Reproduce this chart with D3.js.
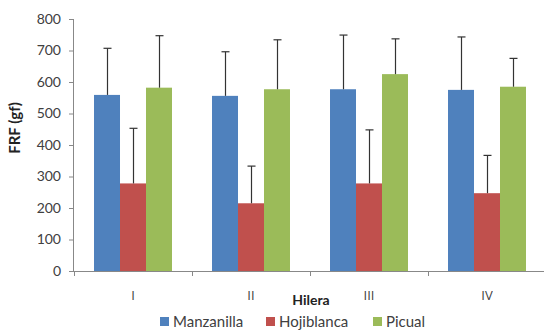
<!DOCTYPE html>
<html><head><meta charset="utf-8">
<script src="https://cdn.jsdelivr.net/npm/d3@7/dist/d3.min.js"></script>
<style>body{margin:0;background:#fff}svg{display:block}</style>
</head><body>
<script>
const categories = ["I", "II", "III", "IV"];
const seriesNames = ["Manzanilla", "Hojiblanca", "Picual"];
const manzanilla = [559, 556, 577, 575];
const hojiblanca = [278, 215, 278, 247];
const picual = [582, 577, 625, 585];
const manzanillaErr = [148, 140, 172, 168];
const hojiblancaErr = [175, 118, 170, 120];
const picualErr = [165, 157, 112, 90];
const yTicks = [0, 100, 200, 300, 400, 500, 600, 700, 800];
const colors = ["#4F81BD", "#C0504D", "#9BBB59"];

const values = [manzanilla, hojiblanca, picual];
const errs = [manzanillaErr, hojiblancaErr, picualErr];

const W = 544, H = 331;
const svg = d3.select("body").append("svg").attr("width", W).attr("height", H);
const font = "Lato, 'Open Sans', sans-serif";

const x = d3.scaleBand().domain(categories).range([74, 546]).paddingInner(0).paddingOuter(0);
const y = d3.scaleLinear().domain([0, 800]).range([271, 19]);
const xs = d3.scaleBand().domain(seriesNames).range([0, x.bandwidth()]).paddingInner(0).paddingOuter(0.77);

// axes
const yAxis = d3.axisLeft(y).tickValues(yTicks).tickSize(5).tickPadding(8);
const gy = svg.append("g").attr("transform", "translate(74,0)").call(yAxis);
gy.select(".domain").attr("stroke", "#888").attr("d", "M-0.5,19.5V271.5");
gy.selectAll(".tick line").attr("stroke", "#888").attr("x1", -5).attr("x2", 0);
gy.selectAll("text").attr("font-family", font).attr("font-size", 14).attr("fill", "#404040");

const xAxis = d3.axisBottom(x).tickSize(0).tickFormat("");
const gx = svg.append("g").attr("transform", "translate(0,271)").call(xAxis);
gx.select(".domain").attr("stroke", "#888");
gx.selectAll(".tick text").remove();
// boundary ticks
const bounds = categories.map(c => x(c)).concat([x.range()[1]]);
gx.selectAll(".btick").data(bounds).enter().append("line")
  .attr("x1", d => Math.round(d) + 0.5).attr("x2", d => Math.round(d) + 0.5)
  .attr("y1", 0).attr("y2", 5).attr("stroke", "#888");
svg.append("g").attr("opacity", 0.99).selectAll("text").data(categories).enter().append("text")
  .attr("x", c => x(c) + x.bandwidth() / 2).attr("y", 300).attr("text-anchor", "middle")
  .attr("font-family", "'Open Sans', sans-serif").attr("font-size", 13).attr("fill", "#404040").text(c => c);

// bars
seriesNames.forEach((s, si) => {
  const g = svg.append("g");
  g.selectAll("rect").data(categories).enter().append("rect")
    .attr("x", c => x(c) + xs(s))
    .attr("y", (c, i) => y(values[si][i]))
    .attr("width", xs.bandwidth())
    .attr("height", (c, i) => y(0) - y(values[si][i]))
    .attr("fill", colors[si]);
});
// error bars
seriesNames.forEach((s, si) => {
  const g = svg.append("g").attr("stroke", "#333").attr("stroke-width", 1.2);
  categories.forEach((c, i) => {
    const cx = Math.round(x(c) + xs(s) + xs.bandwidth() / 2) + 0.5;
    const top = y(values[si][i] + errs[si][i]);
    g.append("line").attr("x1", cx).attr("x2", cx).attr("y1", y(values[si][i])).attr("y2", top);
    g.append("line").attr("x1", cx - 4).attr("x2", cx + 4).attr("y1", top).attr("y2", top);
  });
});

// axis titles
svg.append("text").attr("x", 311).attr("y", 305).attr("text-anchor", "middle")
  .attr("font-family", font).attr("font-weight", "bold").attr("font-size", 14).attr("fill", "#222").text("Hilera");
svg.append("text").attr("transform", "translate(20,128) rotate(-90)").attr("text-anchor", "middle")
  .attr("font-family", font).attr("font-weight", "bold").attr("font-size", 15).attr("fill", "#222").text("FRF (gf)");

// legend
const legX = [160, 266, 373];
const leg = svg.append("g");
seriesNames.forEach((s, i) => {
  leg.append("rect").attr("x", legX[i]).attr("y", 317).attr("width", 9).attr("height", 9).attr("fill", colors[i]);
  leg.append("text").attr("x", legX[i] + 13).attr("y", 327).attr("font-family", font).attr("font-size", 15)
    .attr("fill", "#404040").text(s);
});
</script>
</body></html>
